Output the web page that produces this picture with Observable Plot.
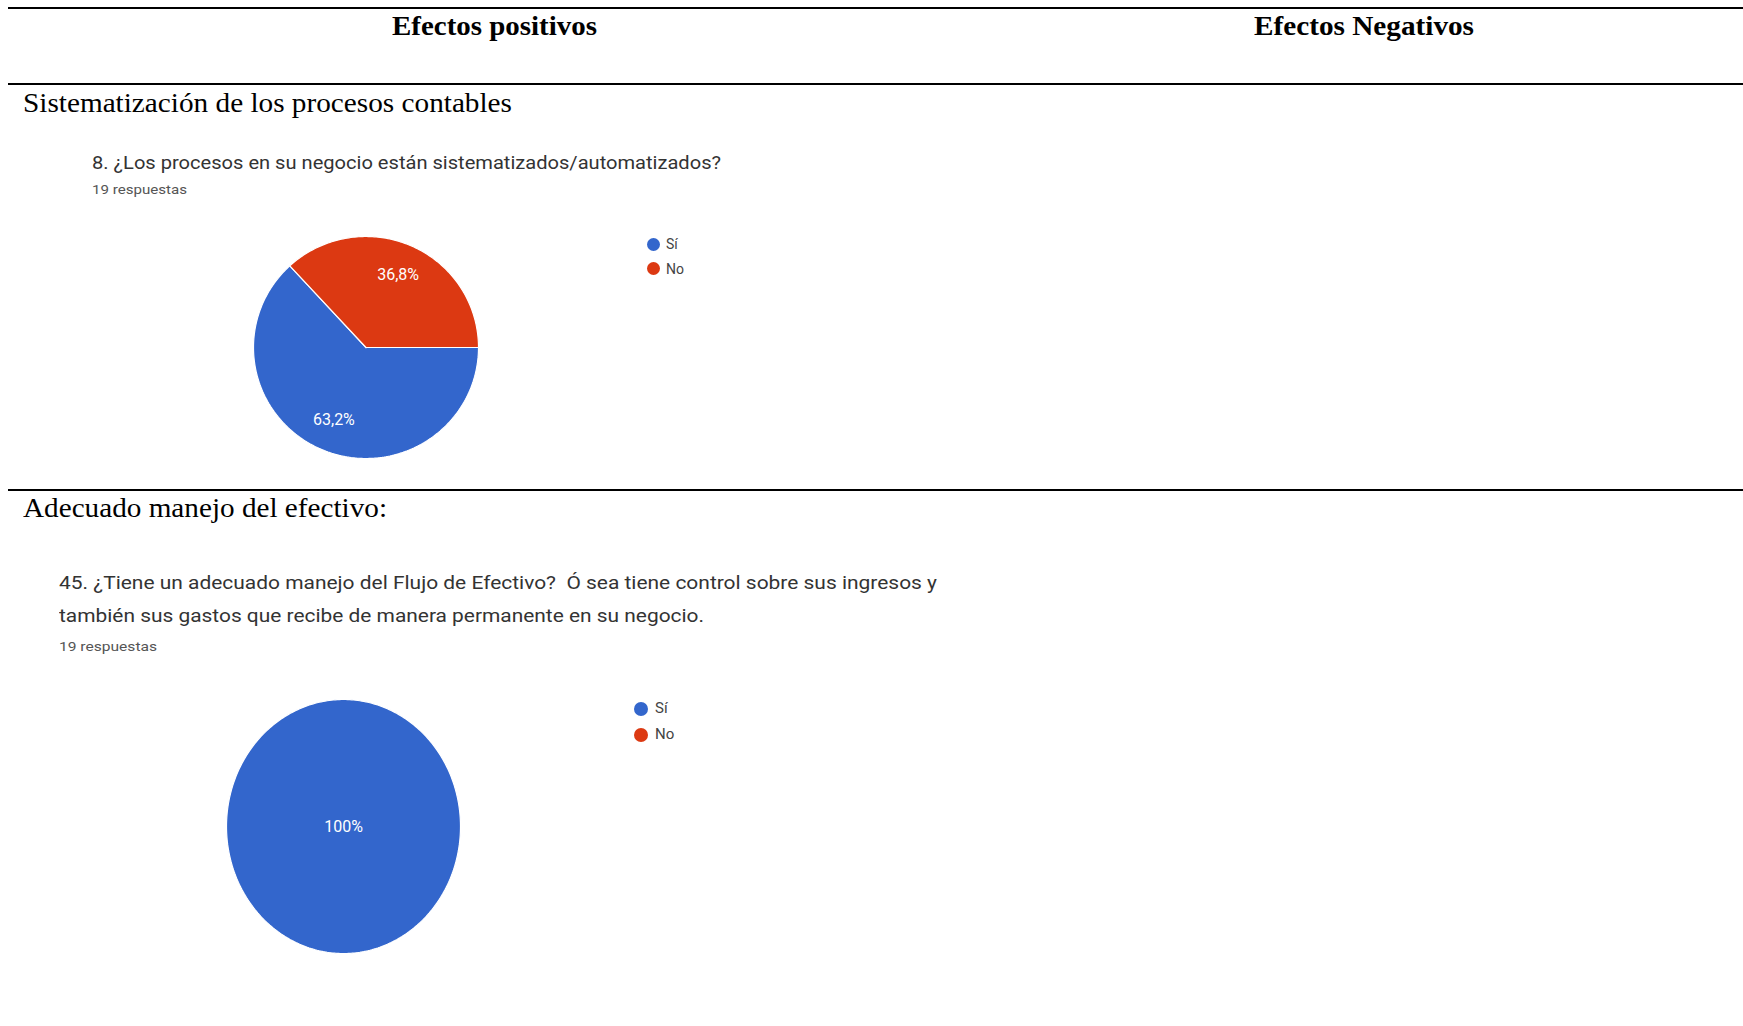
<!DOCTYPE html>
<html>
<head>
<meta charset="utf-8">
<script src="https://cdn.jsdelivr.net/npm/d3@7"></script>
<script src="https://cdn.jsdelivr.net/npm/@observablehq/plot@0.6"></script>
<style>
html, body { margin: 0; padding: 0; background: #fff; }
#page { position: relative; width: 1743px; height: 1026px; overflow: hidden; background: #fff; }
.rule { position: absolute; left: 8px; right: 0; height: 2px; background: #000; }
.serif { position: absolute; font-family: "Liberation Serif", "Times New Roman", serif; font-size: 28px; line-height: 1; white-space: pre; color: #000; transform-origin: 0 0; }
.bold { font-weight: bold; }
.q { position: absolute; font-family: Roboto, sans-serif; line-height: 1; white-space: pre; color: #333; transform-origin: 0 0; }
.sub { color: #555; }
.dot { position: absolute; border-radius: 50%; }
.lg { position: absolute; font-family: Roboto, sans-serif; line-height: 1; white-space: pre; color: #444; }
.plot { position: absolute; }
</style>
</head>
<body>
<div id="page"></div>
<script>
// ---------------- data ----------------
const columnHeaders = ["Efectos positivos", "Efectos Negativos"];
const sectionTitles = ["Sistematización de los procesos contables", "Adecuado manejo del efectivo:"];
const categories = ["Sí", "No"];
const colors = ["#3366cc", "#dc3912"];

const question1 = ["8. ¿Los procesos en su negocio están sistematizados/automatizados?"];
const responses1 = "19 respuestas";
const values1 = [12, 7];            // 63,2 % / 36,8 % de 19
const labels1 = ["63,2%", "36,8%"];

const question2 = [
  "45. ¿Tiene un adecuado manejo del Flujo de Efectivo?  Ó sea tiene control sobre sus ingresos y",
  "también sus gastos que recibe de manera permanente en su negocio."
];
const responses2 = "19 respuestas";
const values2 = [19, 0];            // 100 % de 19
const labels2 = ["100%", ""];

// ---------------- helpers ----------------
const page = document.getElementById("page");
const fitters = [];

function addDiv(cls, text, left, top, style = {}, targetWidth = null) {
  const d = document.createElement("div");
  d.className = cls;
  d.textContent = text;
  d.style.left = left + "px";
  d.style.top = top + "px";
  Object.assign(d.style, style);
  page.appendChild(d);
  if (targetWidth) fitters.push([d, targetWidth]);
  return d;
}
function rule(y) {
  const d = document.createElement("div");
  d.className = "rule";
  d.style.top = y + "px";
  page.appendChild(d);
}
function fitAll() {
  for (const [d, w] of fitters) {
    d.style.transform = "none";
    const nat = d.getBoundingClientRect().width;
    if (nat > 0) d.style.transform = `scaleX(${w / nat})`;
  }
}

// baseline helpers (line-height: 1)
const serifTop = (baseline, fs) => baseline - 0.8375 * fs;
const robotoTop = (baseline, fs) => baseline - 0.8418 * fs;

// ---------------- table skeleton ----------------
rule(6.5);
rule(82.5);
rule(489);

addDiv("serif bold", columnHeaders[0], 392, serifTop(35.5, 28), {}, 205);
addDiv("serif bold", columnHeaders[1], 1254, serifTop(35.5, 28), {}, 220);
addDiv("serif", sectionTitles[0], 22.5, serifTop(112, 28), {}, 489);
addDiv("serif", sectionTitles[1], 22.5, serifTop(517.5, 28), {}, 364);

// ---------------- chart text ----------------
addDiv("q", question1[0], 92, robotoTop(169.5, 18), {fontSize: "18px"}, 629);
addDiv("q sub", responses1, 92, robotoTop(194, 13.5), {fontSize: "13.5px"}, 95);

addDiv("q", question2[0], 58.5, robotoTop(589.5, 18.5), {fontSize: "18.5px"}, 878);
addDiv("q", question2[1], 58.5, robotoTop(623, 18.5), {fontSize: "18.5px"}, 645);
addDiv("q sub", responses2, 59, robotoTop(651.5, 13.5), {fontSize: "13.5px"}, 98);

// ---------------- legends ----------------
function legend(x, y0, step, r, fs, textX) {
  categories.forEach((c, i) => {
    const cy = y0 + i * step;
    const dot = document.createElement("div");
    dot.className = "dot";
    Object.assign(dot.style, {left: (x - r) + "px", top: (cy - r) + "px", width: 2 * r + "px", height: 2 * r + "px", background: colors[i]});
    page.appendChild(dot);
    addDiv("lg", c, textX, cy - 0.4868 * fs, {fontSize: fs + "px"});
  });
}
legend(653, 244, 24.5, 6.5, 14, 666);
legend(641, 708.5, 26, 7, 15, 655);

// ---------------- pies (Observable Plot) ----------------
function pie(values, labels, cx, cy, rx, ry) {
  const m = 2;
  const total = d3.sum(values);
  const pts = [];
  const lab = [];
  let a = Math.PI / 2;                       // start at 3 o'clock, clockwise
  values.forEach((v, i) => {
    if (v <= 0) return;
    const a1 = a + 2 * Math.PI * v / total;
    const full = v >= total;
    const n = Math.max(2, Math.ceil((a1 - a) / (Math.PI / 180)));
    if (!full) pts.push({cat: categories[i], x: 0, y: 0});
    for (let k = 0; k <= n; k++) {
      const t = a + (a1 - a) * k / n;
      pts.push({cat: categories[i], x: Math.sin(t), y: Math.cos(t)});
    }
    if (!full) pts.push({cat: categories[i], x: 0, y: 0});
    const mid = (a + a1) / 2;
    const rr = full ? 0 : 0.71;
    lab.push({text: labels[i], x: rr * Math.sin(mid), y: rr * Math.cos(mid)});
    a = a1;
  });
  const p = Plot.plot({
    width: 2 * rx + 2 * m,
    height: 2 * ry + 2 * m,
    marginTop: m, marginBottom: m, marginLeft: m, marginRight: m,
    x: {domain: [-1, 1], axis: null},
    y: {domain: [-1, 1], axis: null},
    color: {domain: categories, range: colors},
    style: {background: "transparent", fontFamily: "Roboto, sans-serif", overflow: "visible"},
    marks: [
      Plot.line(pts, {x: "x", y: "y", z: "cat", fill: "cat", stroke: "white", strokeWidth: 1.2, strokeLinejoin: "miter"}),
      Plot.text(lab, {x: "x", y: "y", text: "text", fill: "white", fontSize: 16, fontFamily: "Roboto, sans-serif"})
    ]
  });
  p.classList.add("plot");
  p.style.left = (cx - rx - m) + "px";
  p.style.top = (cy - ry - m) + "px";
  page.appendChild(p);
}
pie(values1, labels1, 365.5, 347, 112.5, 111);
pie(values2, labels2, 343, 826, 117, 127);

fitAll();
if (document.fonts && document.fonts.ready) document.fonts.ready.then(fitAll);
</script>
</body>
</html>
